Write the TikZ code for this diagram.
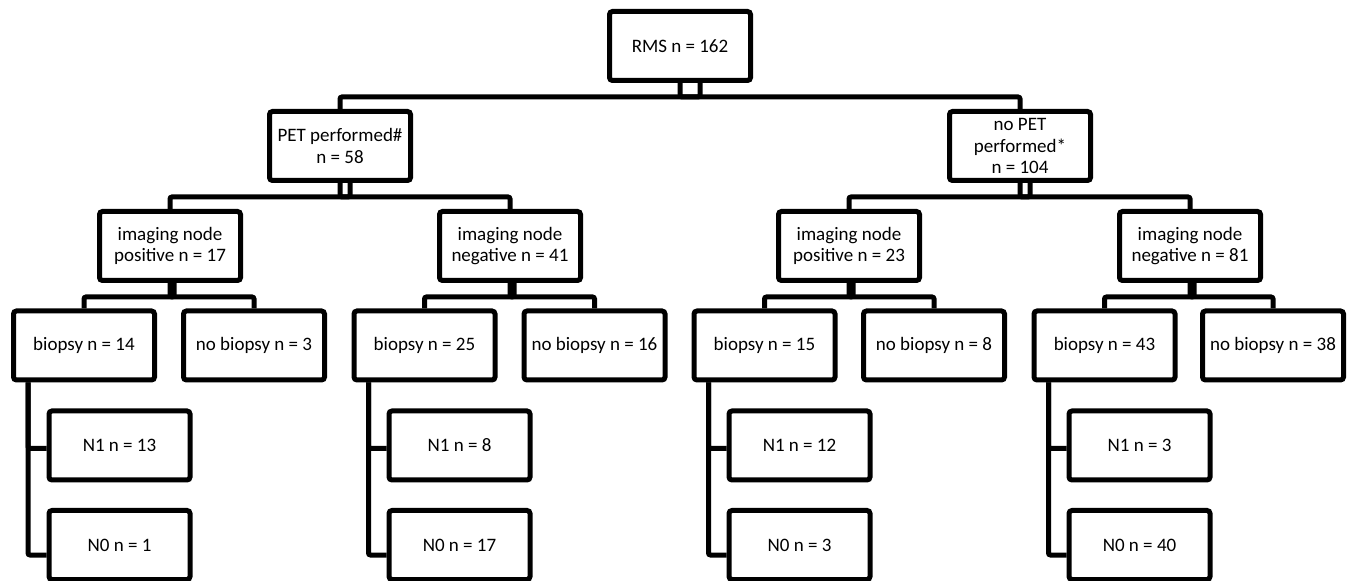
\documentclass[tikz,border=0pt]{standalone}
\usepackage{fontspec}
\setmainfont{Carlito}

\begin{document}
\begin{tikzpicture}[x=0.5pt, y=-0.5pt,
  box/.style = {shape=rectangle, draw, line width=2.5pt, rounded corners=1.5pt,
    align=center, minimum width=70.5pt, minimum height=34.5pt, inner sep=1pt,
    font=\fontsize{9.5}{10.8}\selectfont},
  link/.style = {line width=2.5pt, rounded corners=1pt}]
  \useasboundingbox (0,0) rectangle (1347,581);

  \node [box] (rms) at (680,46) {RMS n = 162};
  \node [box] (pet) at (340,146) {PET performed\#\\n = 58};
  \node [box] (nopet) at (1020,146) {no PET\\performed*\\n = 104};

  \node [box] (posA) at (170,246) {imaging node\\positive n = 17};
  \node [box] (negA) at (510,246) {imaging node\\negative n = 41};
  \node [box] (posB) at (849,246) {imaging node\\positive n = 23};
  \node [box] (negB) at (1190,246) {imaging node\\negative n = 81};

  \node [box] (bio1) at (84,345.5) {biopsy n = 14};
  \node [box] (nobio1) at (254,345.5) {no biopsy n = 3};
  \node [box] (bio2) at (424.5,345.5) {biopsy n = 25};
  \node [box] (nobio2) at (594.5,345.5) {no biopsy n = 16};
  \node [box] (bio3) at (764.5,345.5) {biopsy n = 15};
  \node [box] (nobio3) at (934,345.5) {no biopsy n = 8};
  \node [box] (bio4) at (1104.5,345.5) {biopsy n = 43};
  \node [box] (nobio4) at (1273,345.5) {no biopsy n = 38};

  \node [box] (pos1) at (119.5,445.5) {N1 n = 13};
  \node [box] (zero1) at (119.5,545) {N0 n = 1};
  \node [box] (pos2) at (459.5,445.5) {N1 n = 8};
  \node [box] (zero2) at (459.5,545) {N0 n = 17};
  \node [box] (pos3) at (799.5,445.5) {N1 n = 12};
  \node [box] (zero3) at (799.5,545) {N0 n = 3};
  \node [box] (pos4) at (1139.5,445.5) {N1 n = 3};
  \node [box] (zero4) at (1139.5,545) {N0 n = 40};

  \draw [link] ([xshift=10pt]rms.south) -- ++(0,-7pt) -| (pet.north);
  \draw [link] (rms.south) -- ++(0,-7pt) -| (nopet.north);
  \draw [link] ([xshift=5pt]pet.south) -- ++(0,-7pt) -| (posA.north);
  \draw [link] (pet.south) -- ++(0,-7pt) -| (negA.north);
  \draw [link] ([xshift=5pt]nopet.south) -- ++(0,-7pt) -| (posB.north);
  \draw [link] (nopet.south) -- ++(0,-7pt) -| (negB.north);

  \draw [link] ([xshift=2pt]posA.south) -- ++(0,-7pt) -| (bio1.north);
  \draw [link] (posA.south) -- ++(0,-7pt) -| (nobio1.north);
  \draw [link] ([xshift=2pt]negA.south) -- ++(0,-7pt) -| (bio2.north);
  \draw [link] (negA.south) -- ++(0,-7pt) -| (nobio2.north);
  \draw [link] ([xshift=2pt]posB.south) -- ++(0,-7pt) -| (bio3.north);
  \draw [link] (posB.south) -- ++(0,-7pt) -| (nobio3.north);
  \draw [link] ([xshift=2pt]negB.south) -- ++(0,-7pt) -| (bio4.north);
  \draw [link] (negB.south) -- ++(0,-7pt) -| (nobio4.north);

  \foreach \i in {1,2,3,4} {
    \draw [link] ([xshift=8.5pt]bio\i.south west) |- ([yshift=-1.5pt]pos\i.west);
    \draw [link] ([xshift=8.5pt]bio\i.south west) |- ([yshift=-5pt]zero\i.west);
  }
\end{tikzpicture}
\end{document}
